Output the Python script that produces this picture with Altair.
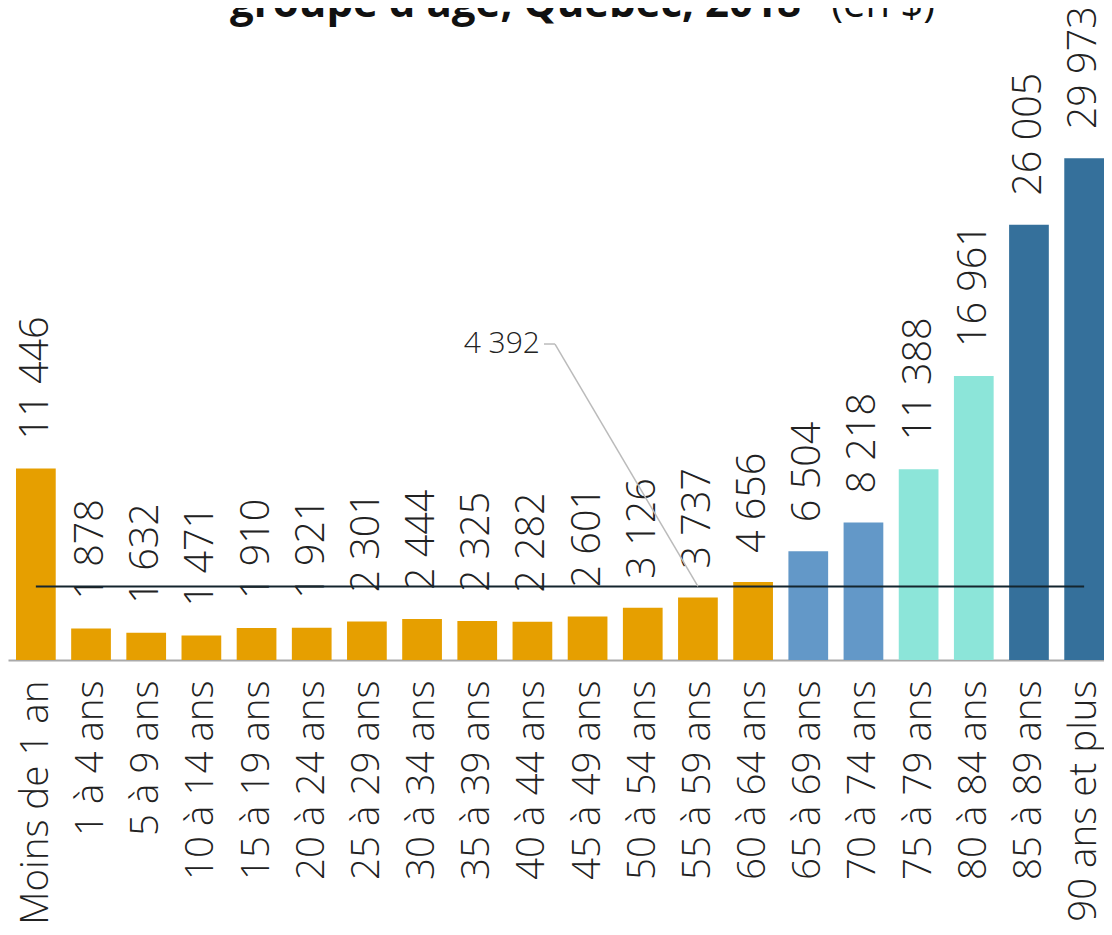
import altair as alt
import pandas as pd

groups = ["Moins de 1 an", "1 à 4 ans", "5 à 9 ans", "10 à 14 ans", "15 à 19 ans",
          "20 à 24 ans", "25 à 29 ans", "30 à 34 ans", "35 à 39 ans", "40 à 44 ans",
          "45 à 49 ans", "50 à 54 ans", "55 à 59 ans", "60 à 64 ans", "65 à 69 ans",
          "70 à 74 ans", "75 à 79 ans", "80 à 84 ans", "85 à 89 ans", "90 ans et plus"]
values = [11446, 1878, 1632, 1471, 1910, 1921, 2301, 2444, 2325, 2282,
          2601, 3126, 3737, 4656, 6504, 8218, 11388, 16961, 26005, 29973]
cats = ["0-64"] * 14 + ["65-74"] * 2 + ["75-84"] * 2 + ["85+"] * 2
cat_domain = ["0-64", "65-74", "75-84", "85+"]
cat_colors = ["#E69F00", "#6398C8", "#8CE5D9", "#35709B"]
average = 4392
average_label = "4 392"
avg_pointer_group = "55 à 59 ans"
title_main = "groupe d'âge, Québec, 2018"
title_unit = "(en $)"

labels = [f"{v:,}".replace(",", " ") for v in values]
df = pd.DataFrame({"grp": groups, "val": values, "cat": cats, "lab": labels})

FONT = "Open Sans"
ymax = 38950
ann_y = 18877

xscale = alt.Scale(paddingInner=0.28, paddingOuter=0.0725, align=1)
yscale = alt.Scale(domain=[0, ymax], nice=False)

base = alt.Chart(df)

bars = base.mark_bar().encode(
    x=alt.X("grp:N", sort=groups, scale=xscale, title=None,
            axis=alt.Axis(labelAngle=270, ticks=False, domainColor="#aaaaaa",
                          domainWidth=2, labelPadding=20, labelFontSize=38.5,
                          labelFont=FONT, labelFontWeight=300, labelColor="#222222",
                          labelLimit=400)),
    y=alt.Y("val:Q", scale=yscale, axis=None),
    color=alt.Color("cat:N", scale=alt.Scale(domain=cat_domain, range=cat_colors), legend=None),
)

texts = base.mark_text(angle=270, align="left", baseline="middle", dx=29,
                       fontSize=39.5, font=FONT, fontWeight=300, color="#222222").encode(
    x=alt.X("grp:N", sort=groups, scale=xscale),
    y=alt.Y("val:Q", scale=yscale),
    text="lab:N",
)

avg_df = pd.DataFrame({"grp": [groups[0], groups[-1]], "val": [average, average]})
avg_line = alt.Chart(avg_df).mark_line(color="#14252e", strokeWidth=2).encode(
    x=alt.X("grp:N", sort=groups, scale=xscale),
    y=alt.Y("val:Q", scale=yscale),
)

one = pd.DataFrame({"k": [0]})
leader = alt.Chart(one).mark_rule(color="#bbbbbb", strokeWidth=1.5).encode(
    x=alt.datum(avg_pointer_group, scale=xscale),
    y=alt.datum(average),
    x2=alt.value(547),
    y2=alt.datum(ann_y),
)
stub = alt.Chart(one).mark_rule(color="#bbbbbb", strokeWidth=1.5).encode(
    x=alt.value(536), x2=alt.value(547), y=alt.datum(ann_y),
)
ann_text = alt.Chart(one).mark_text(align="right", baseline="middle", fontSize=30,
                                    font=FONT, fontWeight=300, color="#222222").encode(
    x=alt.value(532), y=alt.value(336), text=alt.value(average_label),
)

t1 = alt.Chart(one).mark_text(align="left", baseline="alphabetic", fontSize=42,
                              font=FONT, fontWeight="bold", color="#111111").encode(
    x=alt.value(222), y=alt.value(9), text=alt.value(title_main),
)
t2 = alt.Chart(one).mark_text(align="right", baseline="alphabetic", fontSize=40,
                              font=FONT, fontWeight="normal", color="#111111").encode(
    x=alt.value(927), y=alt.value(9), text=alt.value(title_unit),
)

chart = alt.layer(bars, texts, avg_line, leader, stub, ann_text, t1, t2).properties(
    width=1096, height=652,
    autosize=alt.AutoSizeParams(type="none"),
    padding={"left": 0, "top": 0, "right": 0, "bottom": 267},
).configure_view(stroke=None)

chart.save("out.html", embed_options={"renderer": "svg", "actions": False})
